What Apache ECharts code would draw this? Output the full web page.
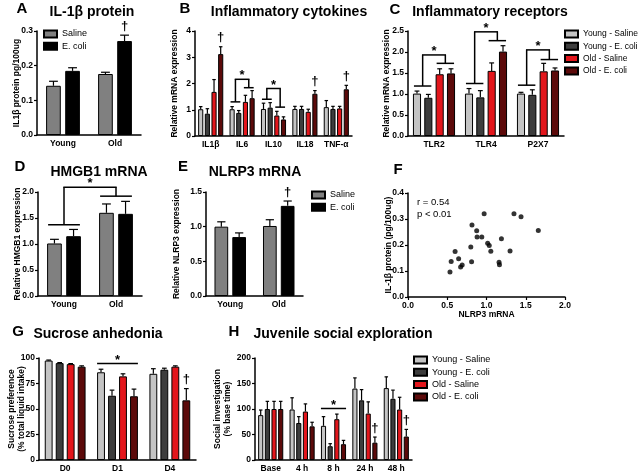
<!DOCTYPE html>
<html><head><meta charset="utf-8">
<script src="https://cdn.jsdelivr.net/npm/echarts@6/dist/echarts.min.js"></script>
<style>html,body{margin:0;padding:0;background:#fff}#c{width:640px;height:473px}</style>
</head><body><div id="c"></div>
<script>
// ================= DATA =================
const groups4 = ['Young - Saline', 'Young - E. coli', 'Old - Saline', 'Old - E. coli'];
const groups2 = ['Saline', 'E. coli'];

// A: IL-1β protein
const aCats = ['Young', 'Old'];
const aSaline = [0.142, 0.176];
const aSalineErr = [0.155, 0.181];
const aEcoli = [0.185, 0.271];
const aEcoliErr = [0.194, 0.288];
const aDaggers = [[1, 1, 0.288]];

// B: Inflammatory cytokines
const bCats = ['IL1β', 'IL6', 'IL10', 'IL18', 'TNF-α'];
const bYS = [1.02, 1.02, 1.03, 1.03, 1.10];
const bYSErr = [1.12, 1.12, 1.25, 1.13, 1.35];
const bYE = [0.85, 0.88, 1.08, 1.03, 1.03];
const bYEErr = [1.04, 0.97, 1.27, 1.13, 1.13];
const bOS = [1.68, 1.30, 0.78, 0.92, 1.05];
const bOSErr = [2.15, 1.55, 0.94, 1.02, 1.13];
const bOE = [3.12, 1.44, 0.63, 1.61, 1.78];
const bOEErr = [3.40, 1.73, 0.73, 1.73, 1.93];
const bDaggers = [[0, 3, 3.40], [3, 3, 1.73], [4, 3, 1.93]];
// brackets: [leftCat, leftFrom, leftTo, rightCat, rightFrom, rightTo, leftY, topY, rightY]
const bBrackets = [[1, 0, 1, 1, 2, 3, 1.30, 2.16, 1.84], [2, 0, 1, 2, 2, 3, 1.40, 1.81, 1.10]];

// C: Inflammatory receptors
const cCats = ['TLR2', 'TLR4', 'P2X7'];
const cYS = [1.01, 1.01, 1.01];
const cYSErr = [1.07, 1.13, 1.04];
const cYE = [0.91, 0.92, 0.98];
const cYEErr = [0.99, 1.08, 1.10];
const cOS = [1.47, 1.55, 1.54];
const cOSErr = [1.60, 1.74, 1.73];
const cOE = [1.49, 2.01, 1.56];
const cOEErr = [1.60, 2.15, 1.62];
const cBrackets = [[0, 0, 1, 0, 2, 3, 1.19, 1.93, 1.73], [1, 0, 1, 1, 2, 3, 1.25, 2.48, 2.27], [2, 0, 1, 2, 2, 3, 1.21, 2.05, 1.82]];

// D: HMGB1 mRNA
const dCats = ['Young', 'Old'];
const dSaline = [1.01, 1.60];
const dSalineErr = [1.09, 1.77];
const dEcoli = [1.15, 1.58];
const dEcoliErr = [1.28, 1.82];
const dBrackets = [[0, 0, 1, 1, 0, 1, 1.37, 2.09, 1.92]];

// E: NLRP3 mRNA
const eCats = ['Young', 'Old'];
const eSaline = [1.00, 1.01];
const eSalineErr = [1.07, 1.10];
const eEcoli = [0.85, 1.30];
const eEcoliErr = [0.91, 1.37];
const eDaggers = [[1, 1, 1.37]];

// F: correlation NLRP3 mRNA vs IL-1β protein
const fNlrp3 = [0.97, 1.35, 1.44, 1.66, 0.815, 0.875, 0.88, 0.94, 1.19, 1.015, 1.035, 0.80, 0.60, 1.055, 1.30, 0.645, 0.55, 0.81, 1.16, 1.165, 0.69, 0.67, 0.535];
const fIl1b = [0.320, 0.320, 0.309, 0.256, 0.277, 0.255, 0.231, 0.231, 0.224, 0.207, 0.198, 0.192, 0.175, 0.176, 0.177, 0.147, 0.137, 0.136, 0.134, 0.124, 0.123, 0.115, 0.096];

// G: Sucrose anhedonia
const gCats = ['D0', 'D1', 'D4'];
const gYS = [97.5, 86, 84.5];
const gYSErr = [98, 89, 89.5];
const gYE = [95, 63, 88.5];
const gYEErr = [95.5, 68.5, 90];
const gOS = [94, 82, 91.5];
const gOSErr = [94.5, 84.5, 92.3];
const gOE = [91.5, 62.5, 58.5];
const gOEErr = [92.3, 69.5, 70];
const gDaggers = [[2, 3, 70]];
const gSigLines = [[1, 0, 3, 94.6]];

// H: Juvenile social exploration
const hCats = ['Base', '4 h', '8 h', '24 h', '48 h'];
const hYS = [88, 99, 67, 140, 141];
const hYSErr = [98, 122, 85, 161, 163];
const hYE = [100, 72.5, 27, 117, 120];
const hYEErr = [115, 85, 32, 138, 137];
const hOS = [100, 95, 80, 91, 99];
const hOSErr = [115, 110, 90, 114, 123];
const hOE = [100, 66, 31, 34, 46];
const hOEErr = [115, 74, 38.5, 45, 60];
const hDaggers = [[3, 3, 45], [4, 3, 60]];
const hSigLines = [[2, 0, 3, 101]];

// ================= STYLE / LAYOUT =================
const FONT = 'Liberation Sans';
const COL4 = ['#c4c4c4', '#3d3d3d', '#e3161c', '#5c0a0a'];
const COL2 = ['#808080', '#000000'];

const grids = [
  { left: 37, top: 31, width: 104, height: 104 },   // A
  { left: 195, top: 31, width: 157, height: 105 },  // B
  { left: 408, top: 31, width: 156, height: 105 },  // C
  { left: 38, top: 192, width: 104, height: 104 },  // D
  { left: 206, top: 192, width: 97, height: 104 },  // E
  { left: 408, top: 193, width: 157, height: 104 }, // F
  { left: 39, top: 358, width: 157, height: 104 },  // G
  { left: 255, top: 358, width: 157, height: 104 }  // H
];
const barCfg = {
  0: [0.35, 0.3], 1: [0.2, 0.3], 2: [0.19, 0.4], 3: [0.35, 0.3],
  4: [0.35, 0.3], 6: [0.22, 0.4], 7: [0.2, 0.3]
};

function barPos(api, gi, n, cat, idx) {
  const [cg, bg] = barCfg[gi];
  const c = api.coord([cat, 0]);
  const band = api.size([1, 0])[0];
  const w = band * (1 - cg) / (n + (n - 1) * bg);
  const total = n * w + (n - 1) * w * bg;
  return { x: c[0] - total / 2 + w / 2 + idx * w * (1 + bg), w: w };
}

function lineEl(x1, y1, x2, y2, lw) {
  return { type: 'line', shape: { x1, y1, x2, y2 }, style: { stroke: '#000', lineWidth: lw } };
}
function textEl(x, y, t, font, va) {
  return { type: 'text', x: x, y: y, style: { text: t, font: font, fill: '#000', textAlign: 'center', textVerticalAlign: va || 'middle', align: 'center', verticalAlign: va || 'middle' } };
}

function yAxis(gi, max, interval, dec, name, gap) {
  return {
    type: 'value', gridIndex: gi, min: 0, max: max, interval: interval,
    name: name, nameLocation: 'middle', nameGap: gap, nameRotate: 90, nameMoveOverlap: false,
    nameTextStyle: { fontSize: 8.5, fontWeight: 'bold', color: '#000', fontFamily: FONT, lineHeight: 10 },
    axisLine: { show: true, lineStyle: { color: '#000', width: 1.5 } },
    axisTick: { show: true, length: 3, lineStyle: { color: '#000', width: 1.2 } },
    axisLabel: { fontSize: 8.5, fontWeight: 'bold', color: '#000', margin: 4, fontFamily: FONT, formatter: v => v.toFixed(dec) },
    splitLine: { show: false }
  };
}
function xCat(gi, cats) {
  return {
    type: 'category', gridIndex: gi, data: cats,
    axisLine: { show: true, lineStyle: { color: '#000', width: 1.5 } },
    axisTick: { show: false },
    axisLabel: { fontSize: 8.5, fontWeight: 'bold', color: '#000', margin: 4, interval: 0, fontFamily: FONT },
    splitLine: { show: false }
  };
}

const series = [];
function addBars(gi, names, colors, vals, errs) {
  const [cg, bg] = barCfg[gi];
  const n = names.length;
  names.forEach((nm, s) => {
    series.push({
      type: 'bar', name: nm, xAxisIndex: gi, yAxisIndex: gi, data: vals[s],
      barCategoryGap: (cg * 100) + '%', barGap: (bg * 100) + '%',
      itemStyle: { color: colors[s], borderColor: '#000', borderWidth: 1 },
      silent: true, animation: false
    });
  });
  const items = [];
  vals.forEach((arr, s) => arr.forEach((v, c) => items.push([c, s, v, errs[s][c]])));
  series.push({
    type: 'custom', xAxisIndex: gi, yAxisIndex: gi, data: items, z: 5, silent: true, animation: false, clip: false,
    encode: { x: 0, y: 3 },
    renderItem: function (params, api) {
      const cat = api.value(0), idx = api.value(1);
      const b = barPos(api, gi, n, cat, idx);
      const y0 = api.coord([cat, api.value(2)])[1];
      const y1 = api.coord([cat, api.value(3)])[1];
      const cap = Math.max(b.w * 0.6, 3.5);
      return { type: 'group', children: [lineEl(b.x, y0, b.x, y1, 1.2), lineEl(b.x - cap / 2, y1, b.x + cap / 2, y1, 1.2)] };
    }
  });
}
function addDaggers(gi, n, items) {
  series.push({
    type: 'custom', xAxisIndex: gi, yAxisIndex: gi, data: items, z: 6, silent: true, animation: false, clip: false,
    encode: { x: 0, y: 2 },
    renderItem: function (params, api) {
      const cat = api.value(0);
      const b = barPos(api, gi, n, cat, api.value(1));
      const y = api.coord([cat, api.value(2)])[1];
      return textEl(b.x, y - 9, '†', 'bold 13px ' + FONT);
    }
  });
}
function addBrackets(gi, n, items) {
  series.push({
    type: 'custom', xAxisIndex: gi, yAxisIndex: gi, data: items, z: 6, silent: true, animation: false, clip: false,
    encode: { x: 0, y: 7 },
    renderItem: function (params, api) {
      const lc = api.value(0), rc = api.value(3);
      const l0 = barPos(api, gi, n, lc, api.value(1)), l1 = barPos(api, gi, n, lc, api.value(2));
      const r0 = barPos(api, gi, n, rc, api.value(4)), r1 = barPos(api, gi, n, rc, api.value(5));
      const ly = api.coord([lc, api.value(6)])[1];
      const ty = api.coord([lc, api.value(7)])[1];
      const ry = api.coord([rc, api.value(8)])[1];
      const la = l0.x - l0.w / 2 + 1, lb = l1.x + l1.w / 2 - 1;
      const ra = r0.x - r0.w / 2 + 1, rb = r1.x + r1.w / 2 - 1;
      const lx = (la + lb) / 2, rx = (ra + rb) / 2;
      return { type: 'group', children: [
        lineEl(la, ly, lb, ly, 1.5), lineEl(ra, ry, rb, ry, 1.5),
        lineEl(lx, ly, lx, ty, 1.5), lineEl(rx, ry, rx, ty, 1.5), lineEl(lx - 0.7, ty, rx + 0.7, ty, 1.5),
        textEl((lx + rx) / 2, ty + 3, '*', 'bold 13px ' + FONT, 'bottom')
      ] };
    }
  });
}
function addSigLines(gi, n, items) {
  series.push({
    type: 'custom', xAxisIndex: gi, yAxisIndex: gi, data: items, z: 6, silent: true, animation: false, clip: false,
    encode: { x: 0, y: 3 },
    renderItem: function (params, api) {
      const c = api.value(0);
      const a = barPos(api, gi, n, c, api.value(1)), b = barPos(api, gi, n, c, api.value(2));
      const y = api.coord([c, api.value(3)])[1];
      const x0 = a.x - a.w / 2, x1 = b.x + b.w / 2;
      return { type: 'group', children: [lineEl(x0, y, x1, y, 1.5), textEl((x0 + x1) / 2, y + 3, '*', 'bold 13px ' + FONT, 'bottom')] };
    }
  });
}

// A
addBars(0, groups2, COL2, [aSaline, aEcoli], [aSalineErr, aEcoliErr]);
addDaggers(0, 2, aDaggers);
// B
addBars(1, groups4, COL4, [bYS, bYE, bOS, bOE], [bYSErr, bYEErr, bOSErr, bOEErr]);
addDaggers(1, 4, bDaggers);
addBrackets(1, 4, bBrackets);
// C
addBars(2, groups4, COL4, [cYS, cYE, cOS, cOE], [cYSErr, cYEErr, cOSErr, cOEErr]);
addBrackets(2, 4, cBrackets);
// D
addBars(3, groups2, COL2, [dSaline, dEcoli], [dSalineErr, dEcoliErr]);
addBrackets(3, 2, dBrackets);
// E
addBars(4, groups2, COL2, [eSaline, eEcoli], [eSalineErr, eEcoliErr]);
addDaggers(4, 2, eDaggers);
// F
series.push({
  type: 'scatter', xAxisIndex: 5, yAxisIndex: 5, symbolSize: 5,
  data: fNlrp3.map((x, i) => [x, fIl1b[i]]),
  itemStyle: { color: '#000' }, silent: true, animation: false
});
// G
addBars(6, groups4, COL4, [gYS, gYE, gOS, gOE], [gYSErr, gYEErr, gOSErr, gOEErr]);
addDaggers(6, 4, gDaggers);
addSigLines(6, 4, gSigLines);
// H
addBars(7, groups4, COL4, [hYS, hYE, hOS, hOE], [hYSErr, hYEErr, hOSErr, hOEErr]);
addDaggers(7, 4, hDaggers);
addSigLines(7, 4, hSigLines);

const xAxes = [
  xCat(0, aCats), xCat(1, bCats), xCat(2, cCats), xCat(3, dCats), xCat(4, eCats),
  {
    type: 'value', gridIndex: 5, min: 0, max: 2, interval: 0.5,
    name: 'NLRP3 mRNA', nameLocation: 'middle', nameGap: 13, nameMoveOverlap: false,
    nameTextStyle: { fontSize: 8.5, fontWeight: 'bold', color: '#000', fontFamily: FONT },
    axisLine: { show: true, lineStyle: { color: '#000', width: 1.5 } },
    axisTick: { show: true, length: 3, lineStyle: { color: '#000', width: 1.2 } },
    axisLabel: { fontSize: 8.5, fontWeight: 'bold', color: '#000', margin: 4, fontFamily: FONT, formatter: v => v.toFixed(1) },
    splitLine: { show: false }
  },
  xCat(6, gCats), xCat(7, hCats)
];
const yAxes = [
  yAxis(0, 0.3, 0.1, 1, 'IL1β protein pg/100ug', 15),
  yAxis(1, 4, 1, 0, 'Relative mRNA expression', 15),
  yAxis(2, 2.5, 0.5, 1, 'Relative mRNA expression', 16),
  yAxis(3, 2, 0.5, 1, 'Relative HMGB1 expression', 15),
  yAxis(4, 1.5, 0.5, 1, 'Relative NLRP3 expression', 24),
  yAxis(5, 0.4, 0.1, 1, 'IL-1β protein (pg/100ug)', 14),
  yAxis(6, 100, 25, 0, 'Sucrose preference\n(% total liquid intake)', 12),
  yAxis(7, 200, 50, 0, 'Social investigation\n(% base time)', 22)
];

function legend(left, top, names, fs) {
  return {
    left: left, top: top, orient: 'vertical', data: names, padding: 0,
    itemWidth: 13, itemHeight: 7, itemGap: 2.3, icon: 'rect', selectedMode: false,
    textStyle: { fontSize: fs, color: '#000', fontFamily: FONT, lineHeight: 10 }
  };
}

const TF = 'bold 14px ' + FONT, LF = 'bold 15px ' + FONT;
const graphic = [
  textEl(22, 9, 'A', LF), textEl(92, 12, 'IL-1β protein', TF),
  textEl(185, 9, 'B', LF), textEl(289, 12, 'Inflammatory cytokines', TF),
  textEl(395, 10, 'C', LF), textEl(490, 12, 'Inflammatory receptors', TF),
  textEl(20, 167, 'D', LF), textEl(99, 172, 'HMGB1 mRNA', TF),
  textEl(183, 167, 'E', LF), textEl(255, 172, 'NLRP3 mRNA', TF),
  textEl(398, 170, 'F', LF),
  textEl(18, 332, 'G', LF), textEl(98, 334, 'Sucrose anhedonia', TF),
  textEl(234, 332, 'H', LF), textEl(343, 334, 'Juvenile social exploration', TF),
  { type: 'text', x: 417, y: 202, style: { text: 'r = 0.54', font: '9.5px ' + FONT, fill: '#000', textAlign: 'left', textVerticalAlign: 'middle', align: 'left', verticalAlign: 'middle' } },
  { type: 'text', x: 417, y: 214, style: { text: 'p < 0.01', font: '9.5px ' + FONT, fill: '#000', textAlign: 'left', textVerticalAlign: 'middle', align: 'left', verticalAlign: 'middle' } }
];

const chart = echarts.init(document.getElementById('c'), null, { renderer: 'canvas' });
chart.setOption({
  backgroundColor: '#fff',
  animation: false,
  textStyle: { fontFamily: FONT },
  grid: grids.map(g => Object.assign({ containLabel: false }, g)),
  xAxis: xAxes,
  yAxis: yAxes,
  legend: [legend(43, 29, groups2, 9), legend(564, 29, groups4, 8.5), legend(311, 190, groups2, 9), legend(413, 355, groups4, 9)],
  graphic: graphic,
  series: series
});
</script></body></html>
